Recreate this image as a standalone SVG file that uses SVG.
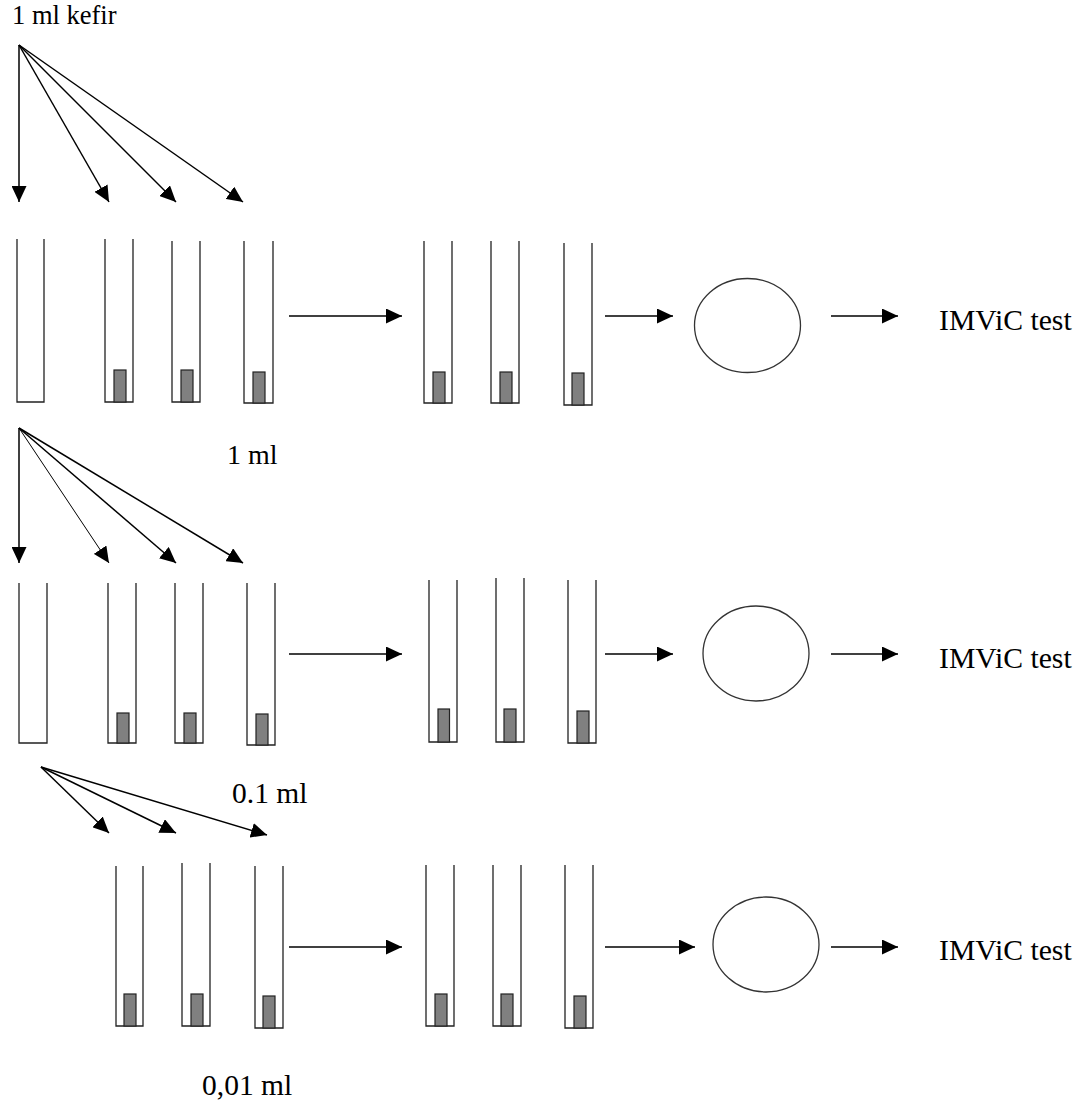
<svg xmlns="http://www.w3.org/2000/svg" width="1090" height="1107" viewBox="0 0 1090 1107">
<style>
  .tube { fill: none; stroke: #222; stroke-width: 1.3; }
  .med { fill: #808080; stroke: #222; stroke-width: 1.2; }
  .dish { fill: none; stroke: #333; stroke-width: 1.3; }
  .arr { fill: none; stroke: #000; stroke-width: 1.5; marker-end: url(#ah); }
  .thin { stroke-width: 1; }
  .lbl { font-family: "Liberation Serif", "Times New Roman", serif; fill: #000; }
</style>
<defs>
  <marker id="ah" markerUnits="userSpaceOnUse" markerWidth="16" markerHeight="15" refX="16" refY="7.5" orient="auto">
    <path d="M0,0 L16,7.5 L0,15 z" fill="#000"/>
  </marker>
</defs>
<rect width="1090" height="1107" fill="#fff"/>

<g id="labels">
  <text class="lbl" x="12" y="24" font-size="26.5">1 ml kefir</text>
  <text class="lbl" x="227" y="464" font-size="28">1 ml</text>
  <text class="lbl" x="232" y="803" font-size="29.5">0.1 ml</text>
  <text class="lbl" x="202" y="1095" font-size="29.5">0,01 ml</text>
  <text class="lbl" x="939" y="330" font-size="29.7">IMViC test</text>
  <text class="lbl" x="939" y="668" font-size="29.7">IMViC test</text>
  <text class="lbl" x="939" y="960" font-size="29.7">IMViC test</text>
</g>

<g id="row1-tubes">
  <path class="tube" d="M17,239 V402 H44 V239"/>
  <path class="tube" d="M105,239 V402 H133 V239"/><rect class="med" x="114" y="370" width="12" height="32"/>
  <path class="tube" d="M172,241 V402 H200 V241"/><rect class="med" x="181" y="370" width="12" height="32"/>
  <path class="tube" d="M244,241 V403 H273 V241"/><rect class="med" x="253" y="372" width="12" height="31"/>
  <path class="tube" d="M424,241 V403 H452 V241"/><rect class="med" x="433" y="372" width="12" height="31"/>
  <path class="tube" d="M491,241 V403 H519 V241"/><rect class="med" x="500" y="372" width="12" height="31"/>
  <path class="tube" d="M564,243 V405 H592 V243"/><rect class="med" x="572" y="373" width="12" height="32"/>
</g>
<g id="row1-dish"><ellipse class="dish" cx="747.5" cy="325.5" rx="53" ry="47"/></g>

<g id="row2-tubes">
  <path class="tube" d="M19,583 V743 H47 V583"/>
  <path class="tube" d="M108,583 V743 H136 V583"/><rect class="med" x="117" y="713" width="12" height="30"/>
  <path class="tube" d="M175,583 V743 H203 V583"/><rect class="med" x="184" y="713" width="12" height="30"/>
  <path class="tube" d="M247,583 V745 H275 V583"/><rect class="med" x="256" y="714" width="12" height="31"/>
  <path class="tube" d="M429,580 V742 H457 V580"/><rect class="med" x="438" y="709" width="11.5" height="33"/>
  <path class="tube" d="M496,578 V742 H524 V578"/><rect class="med" x="504" y="709" width="12" height="33"/>
  <path class="tube" d="M568,580 V743 H596 V580"/><rect class="med" x="577" y="711" width="12" height="32"/>
</g>
<g id="row2-dish"><ellipse class="dish" cx="756" cy="653.5" rx="53" ry="47.5"/></g>

<g id="row3-tubes">
  <path class="tube" d="M116,866 V1026 H143 V866"/><rect class="med" x="124" y="994" width="12" height="32"/>
  <path class="tube" d="M182,863 V1026 H210 V863"/><rect class="med" x="191" y="994" width="12" height="32"/>
  <path class="tube" d="M255,866 V1028 H283 V866"/><rect class="med" x="263" y="996" width="12" height="32"/>
  <path class="tube" d="M426,865 V1026 H454 V865"/><rect class="med" x="435" y="994" width="12" height="32"/>
  <path class="tube" d="M493,865 V1026 H521 V865"/><rect class="med" x="501" y="994" width="12" height="32"/>
  <path class="tube" d="M565,865 V1028 H593 V865"/><rect class="med" x="574" y="996" width="12" height="32"/>
</g>
<g id="row3-dish"><ellipse class="dish" cx="766" cy="944.5" rx="53" ry="47.5"/></g>

<g id="connectors">
  <line class="arr" x1="19" y1="45" x2="19" y2="202"/>
  <line class="arr" x1="19" y1="45" x2="109" y2="202"/>
  <line class="arr" x1="19" y1="45" x2="176" y2="202"/>
  <line class="arr" x1="19" y1="45" x2="243" y2="202"/>
  <line class="arr" x1="289" y1="316" x2="402" y2="316"/>
  <line class="arr" x1="605" y1="316" x2="673" y2="316"/>
  <line class="arr" x1="831" y1="316" x2="898" y2="316"/>

  <line class="arr" x1="19" y1="428" x2="19" y2="563"/>
  <line class="arr thin" x1="19" y1="428" x2="109" y2="563"/>
  <line class="arr" x1="19" y1="428" x2="176" y2="563"/>
  <line class="arr" x1="19" y1="428" x2="243" y2="563"/>
  <line class="arr" x1="289" y1="654" x2="402" y2="654"/>
  <line class="arr" x1="605" y1="654" x2="673" y2="654"/>
  <line class="arr" x1="831" y1="654" x2="898" y2="654"/>

  <line class="arr" x1="41" y1="767" x2="109" y2="833"/>
  <line class="arr" x1="41" y1="767" x2="176" y2="833"/>
  <line class="arr" x1="41" y1="767" x2="267" y2="835"/>
  <line class="arr" x1="289" y1="947" x2="402" y2="947"/>
  <line class="arr" x1="605" y1="947" x2="695" y2="947"/>
  <line class="arr" x1="831" y1="947" x2="898" y2="947"/>
</g>
</svg>
